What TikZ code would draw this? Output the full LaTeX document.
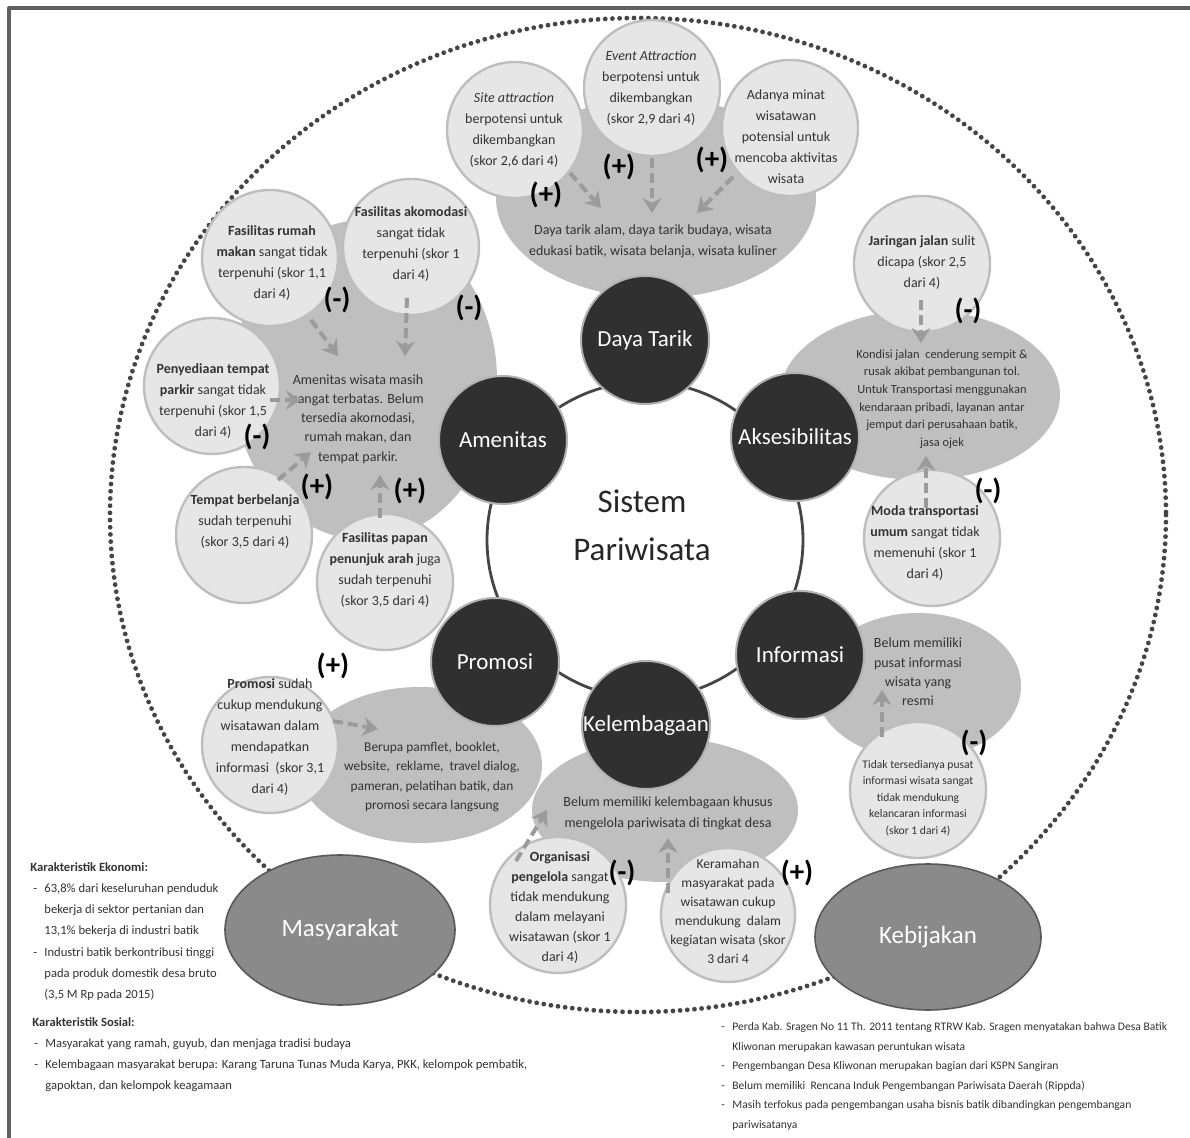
\documentclass[tikz,border=0pt]{standalone}
\usepackage{fontspec}
\setmainfont{Carlito}
\usetikzlibrary{arrows.meta,shapes.geometric}
\definecolor{cBub}{HTML}{E6E6E6}
\definecolor{cBubLine}{HTML}{BEBEBE}
\definecolor{cField}{HTML}{BFBFBF}
\definecolor{cHub}{HTML}{303030}
\definecolor{cPole}{HTML}{8A8A8A}
\definecolor{cArrow}{HTML}{9B9B9B}
\definecolor{cInk}{HTML}{333333}
\definecolor{cLine}{HTML}{454545}
\newcommand\dsh{\makebox[5.5pt][l]{-}}
\newcommand\ind{\hspace*{5.5pt}}
\tikzset{
  bubble/.style={circle,fill=cBub,draw=cBubLine,line width=1.2pt,minimum size=68pt,inner sep=0pt},
  field/.style={ellipse,fill=cField,inner sep=0pt},
  hub/.style={circle,fill=cHub,draw=gray!60,line width=1pt,minimum size=64pt,inner sep=0pt,text=white,font=\fontsize{11.5}{13}\selectfont},
  pole/.style={ellipse,fill=cPole,draw=gray!70!black,line width=.8pt,inner sep=0pt,text=white,font=\fontsize{12.5}{14}\selectfont},
  txt/.style={align=center,inner sep=0pt,text=cInk,font=\fontsize{7}{10.5}\selectfont},
  sgn/.style={inner sep=0pt,font=\bfseries\fontsize{14.5}{14.5}\selectfont},
  arr/.style={draw=cArrow,line width=2pt,dash pattern=on 5pt off 2.5pt,-{Stealth[length=7.5pt,width=9.5pt]}},
  lst/.style={align=left,inner sep=0pt,text=cInk,font=\fontsize{6.3}{10.6}\selectfont}
}
\begin{document}
\begin{tikzpicture}[x=0.5pt,y=-0.5pt,line join=round]
\useasboundingbox (0,0) rectangle (1190,1138);
% frame
\draw[line width=1.6pt,draw=cLine!85] (9,1160) -- (9,8) -- (1210,8);
% dotted boundary, ring
\draw[draw=cLine,line width=2.4pt,line cap=round,dash pattern=on 0pt off 3.6pt] (638,515) ellipse [x radius=528, y radius=497];
\draw[draw=cLine,line width=1.4pt] (645,540) circle [radius=158];

% grey fields
\path
  (656,198) node[field,minimum width=160pt,minimum height=100pt] (dtF) {}
  (365,380) node[field,minimum width=132pt,minimum height=160pt] (amF) {}
  (920,395) node[field,minimum width=140pt,minimum height=85pt] (akF) {}
  (918,686) node[field,minimum width=103pt,minimum height=73pt] (inF) {}
  (420,765) node[field,minimum width=122pt,minimum height=78pt] (prF) {}
  (665,810) node[field,minimum width=133pt,minimum height=72pt] (keF) {};
\path
  (653,241) node[txt] (dtT) {Daya tarik alam, daya tarik budaya, wisata\\edukasi batik, wisata belanja, wisata kuliner}
  (358,419) node[txt,font=\fontsize{7}{9.6}\selectfont] (amT) {Amenitas wisata masih\\sangat terbatas. Belum\\tersedia akomodasi,\\rumah makan, dan\\tempat parkir.}
  (942,399) node[txt,font=\fontsize{6.2}{8.8}\selectfont] (akT) {Kondisi jalan\ \ cenderung sempit \&\\rusak akibat pembangunan tol.\\Untuk Transportasi menggunakan\\kendaraan pribadi, layanan antar\\jemput dari perusahaan batik,\\jasa ojek}
  (918,672) node[txt,font=\fontsize{7}{9.7}\selectfont] (inT) {Belum memiliki\\pusat informasi\\wisata yang\\resmi}
  (432,777) node[txt,font=\fontsize{6.7}{9.7}\selectfont] (prT) {Berupa pamflet, booklet,\\website,\ \ reklame,\ \ travel dialog,\\pameran, pelatihan batik, dan\\promosi secara langsung}
  (668,813) node[txt] (keT) {Belum memiliki kelembagaan khusus\\mengelola pariwisata di tingkat desa};

% bubbles
\path
  (515,130) node[bubble] (site) {}
  (652,88) node[bubble] (event) {}
  (790,128) node[bubble] (minat) {}
  (270,258) node[bubble] (rumah) {}
  (411,247) node[bubble] (akomodasi) {}
  (212,386) node[bubble] (parkir) {}
  (244,535) node[bubble] (belanja) {}
  (385,582) node[bubble] (papan) {}
  (922,264) node[bubble] (jalan) {}
  (932,538) node[bubble] (moda) {}
  (918,790) node[bubble] (pusat) {}
  (270,745) node[bubble] (promo) {}
  (558,905) node[bubble] (organisasi) {}
  (728,915) node[bubble,minimum size=67pt] (ramah) {};
\path
  (514,130) node[txt] (siteT) {\textit{Site attraction}\\berpotensi untuk\\dikembangkan\\(skor 2,6 dari 4)}
  (651,88) node[txt] (eventT) {\textit{Event Attraction}\\berpotensi untuk\\dikembangkan\\(skor 2,9 dari 4)}
  (786,137) node[txt] (minatT) {Adanya minat\\wisatawan\\potensial untuk\\mencoba aktivitas\\wisata}
  (272,263) node[txt] (rumahT) {\textbf{Fasilitas rumah}\\\textbf{makan} sangat tidak\\terpenuhi (skor 1,1\\dari 4)}
  (411,244) node[txt] (akomodasiT) {\textbf{Fasilitas akomodasi}\\sangat tidak\\terpenuhi (skor 1\\dari 4)}
  (213,401) node[txt] (parkirT) {\textbf{Penyediaan tempat}\\\textbf{parkir} sangat tidak\\terpenuhi (skor 1,5\\dari 4)}
  (245,522) node[txt] (belanjaT) {\textbf{Tempat berbelanja}\\sudah terpenuhi\\(skor 3,5 dari 4)}
  (385,570) node[txt] (papanT) {\textbf{Fasilitas papan}\\\textbf{penunjuk arah} juga\\sudah terpenuhi\\(skor 3,5 dari 4)}
  (922,263) node[txt] (jalanT) {\textbf{Jaringan jalan} sulit\\dicapa (skor 2,5\\dari 4)}
  (925,543) node[txt] (modaT) {\textbf{Moda transportasi}\\\textbf{umum} sangat tidak\\memenuhi (skor 1\\dari 4)}
  (918,798) node[txt,font=\fontsize{5.8}{8.3}\selectfont] (pusatT) {Tidak tersedianya pusat\\informasi wisata sangat\\tidak mendukung\\kelancaran informasi\\(skor 1 dari 4)}
  (270,737) node[txt] (promoT) {\textbf{Promosi} sudah\\cukup mendukung\\wisatawan dalam\\mendapatkan\\informasi\ \ (skor 3,1\\dari 4)}
  (560,908) node[txt,font=\fontsize{7}{10}\selectfont] (organisasiT) {\textbf{Organisasi}\\\textbf{pengelola} sangat\\tidak mendukung\\dalam melayani\\wisatawan (skor 1\\dari 4)}
  (728,911) node[txt,font=\fontsize{6.8}{9.5}\selectfont] (ramahT) {Keramahan\\masyarakat pada\\wisatawan cukup\\mendukung\ \ dalam\\kegiatan wisata (skor\\3 dari 4};

% sub-systems
\path
  (645,340) node[hub] (dayaTarik) {Daya Tarik}
  (795,437) node[hub] (aksesibilitas) {Aksesibilitas}
  (800,655) node[hub] (informasi) {Informasi}
  (646,725) node[hub] (kelembagaan) {Kelembagaan}
  (495,662) node[hub] (promosi) {Promosi}
  (503,440) node[hub] (amenitas) {Amenitas}
  (642,525) node[align=center,inner sep=0pt,text=black!85,font=\fontsize{16.5}{24}\selectfont] (sistem) {Sistem\\Pariwisata};
\path
  (340,930) node[pole,minimum width=115pt,minimum height=75pt] (masyarakat) {Masyarakat}
  (928,937) node[pole,minimum width=113pt,minimum height=73pt] (kebijakan) {Kebijakan};

% arrows
\coordinate (siteA) at (570,173); \coordinate (siteB) at (601,208);
\coordinate (eventA) at (652,158); \coordinate (eventB) at (652,213);
\coordinate (minatA) at (733,177); \coordinate (minatB) at (697,213);
\coordinate (rumahA) at (311,320); \coordinate (rumahB) at (338,356);
\coordinate (akomodasiA) at (407,298); \coordinate (akomodasiB) at (405,356);
\coordinate (parkirA) at (270,400); \coordinate (parkirB) at (301,400);
\coordinate (belanjaA) at (278,480); \coordinate (belanjaB) at (311,452);
\coordinate (papanA) at (380,518); \coordinate (papanB) at (380,475);
\coordinate (jalanA) at (921,300); \coordinate (jalanB) at (921,343);
\coordinate (modaA) at (926,508); \coordinate (modaB) at (926,456);
\coordinate (pusatA) at (882,737); \coordinate (pusatB) at (882,690);
\coordinate (promoA) at (333,721); \coordinate (promoB) at (378,729);
\coordinate (organisasiA) at (516,861); \coordinate (organisasiB) at (547,810);
\coordinate (ramahA) at (668,893); \coordinate (ramahB) at (668,838);
\foreach \p in {site,event,minat,rumah,akomodasi,parkir,belanja,papan,jalan,moda,pusat,promo,organisasi,ramah}
  \draw[arr] (\p A) -- (\p B);

% signs
\path
  (546,195) node[sgn] (sgSite) {(+)}
  (619,167) node[sgn] (sgEvent) {(+)}
  (712,160) node[sgn] (sgMinat) {(+)}
  (337,300) node[sgn] (sgRumah) {(-)}
  (469,308) node[sgn] (sgAkomodasi) {(-)}
  (257,437) node[sgn] (sgParkir) {(-)}
  (317,487) node[sgn] (sgBelanja) {(+)}
  (410,491) node[sgn] (sgPapan) {(+)}
  (968,311) node[sgn] (sgJalan) {(-)}
  (988,491) node[sgn] (sgModa) {(-)}
  (974,743) node[sgn] (sgPusat) {(-)}
  (333,666) node[sgn] (sgPromo) {(+)}
  (622,873) node[sgn] (sgOrganisasi) {(-)}
  (797,873) node[sgn] (sgRamah) {(+)};

% notes
\node[lst,anchor=north west] (ekonomi) at (30,862) {\textbf{Karakteristik Ekonomi:}\\
  \hspace*{1.5pt}\dsh 63,8\% dari keseluruhan penduduk\\
  \hspace*{1.5pt}\ind bekerja di sektor pertanian dan\\
  \hspace*{1.5pt}\ind 13,1\% bekerja di industri batik\\
  \hspace*{1.5pt}\dsh Industri batik berkontribusi tinggi\\
  \hspace*{1.5pt}\ind pada produk domestik desa bruto\\
  \hspace*{1.5pt}\ind (3,5 M Rp pada 2015)};
\node[lst,anchor=north west] (sosial) at (32,1017) {\textbf{Karakteristik Sosial:}\\
  \hspace*{1pt}\dsh Masyarakat yang ramah, guyub, dan menjaga tradisi budaya\\
  \hspace*{1pt}\dsh Kelembagaan masyarakat berupa: Karang Taruna Tunas Muda Karya, PKK, kelompok pembatik,\\
  \hspace*{1pt}\ind gapoktan, dan kelompok keagamaan};
\node[lst,anchor=north west,font=\fontsize{5.8}{9.8}\selectfont] (regulasi) at (721,1022) {%
  \dsh Perda Kab. Sragen No 11 Th. 2011 tentang RTRW Kab. Sragen menyatakan bahwa Desa Batik\\
  \ind Kliwonan merupakan kawasan peruntukan wisata\\
  \dsh Pengembangan Desa Kliwonan merupakan bagian dari KSPN Sangiran\\
  \dsh Belum memiliki\ \ Rencana Induk Pengembangan Pariwisata Daerah (Rippda)\\
  \dsh Masih terfokus pada pengembangan usaha bisnis batik dibandingkan pengembangan\\
  \ind pariwisatanya};
\end{tikzpicture}
\end{document}
